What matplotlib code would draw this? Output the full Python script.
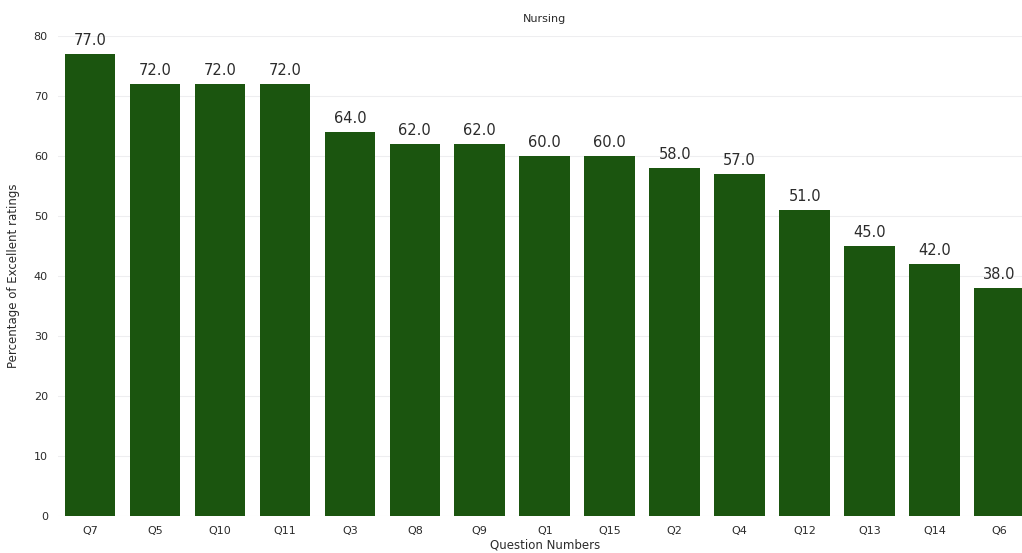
import matplotlib
matplotlib.use("Agg")
import matplotlib.pyplot as plt

questions = ["Q7", "Q5", "Q10", "Q11", "Q3", "Q8", "Q9", "Q1", "Q15",
             "Q2", "Q4", "Q12", "Q13", "Q14", "Q6"]
excellent_pct = [77.0, 72.0, 72.0, 72.0, 64.0, 62.0, 62.0, 60.0, 60.0,
                 58.0, 57.0, 51.0, 45.0, 42.0, 38.0]

BAR_GREEN = "#1b550f"
TEXT = "#2b2b2b"

fig = plt.figure(figsize=(10.22, 5.53), dpi=100, facecolor="white")
# axes run past the right edge, like the cropped original
ax = fig.add_axes([0.0563, 0.0669, 0.9535, 0.868])

x = range(len(questions))
bars = ax.bar(x, excellent_pct, width=0.78, color=BAR_GREEN, zorder=3)

for b, v in zip(bars, excellent_pct):
    ax.text(b.get_x() + b.get_width() / 2, v + 1.0, f"{v:.1f}",
            ha="center", va="bottom", fontsize=10.5, color=TEXT)

ax.set_xlim(-0.5, len(questions) - 0.5)
ax.set_ylim(0, 80)
ax.set_yticks(range(0, 81, 10))
ax.set_xticks(list(x))
ax.set_xticklabels(questions)
ax.tick_params(axis="both", labelsize=8, colors=TEXT, length=0, pad=7)

ax.grid(axis="y", color="#eeeef0", linewidth=0.8, zorder=0)
ax.grid(axis="x", visible=False)
for s in ax.spines.values():
    s.set_visible(False)

ax.set_title("Nursing", fontsize=8, color=TEXT, pad=10)
ax.set_ylabel("Percentage of Excellent ratings", fontsize=8.5, color=TEXT, labelpad=10)
ax.set_xlabel("Question Numbers", fontsize=8.5, color=TEXT, labelpad=2)

fig.savefig("out.png", dpi=100, facecolor="white")
